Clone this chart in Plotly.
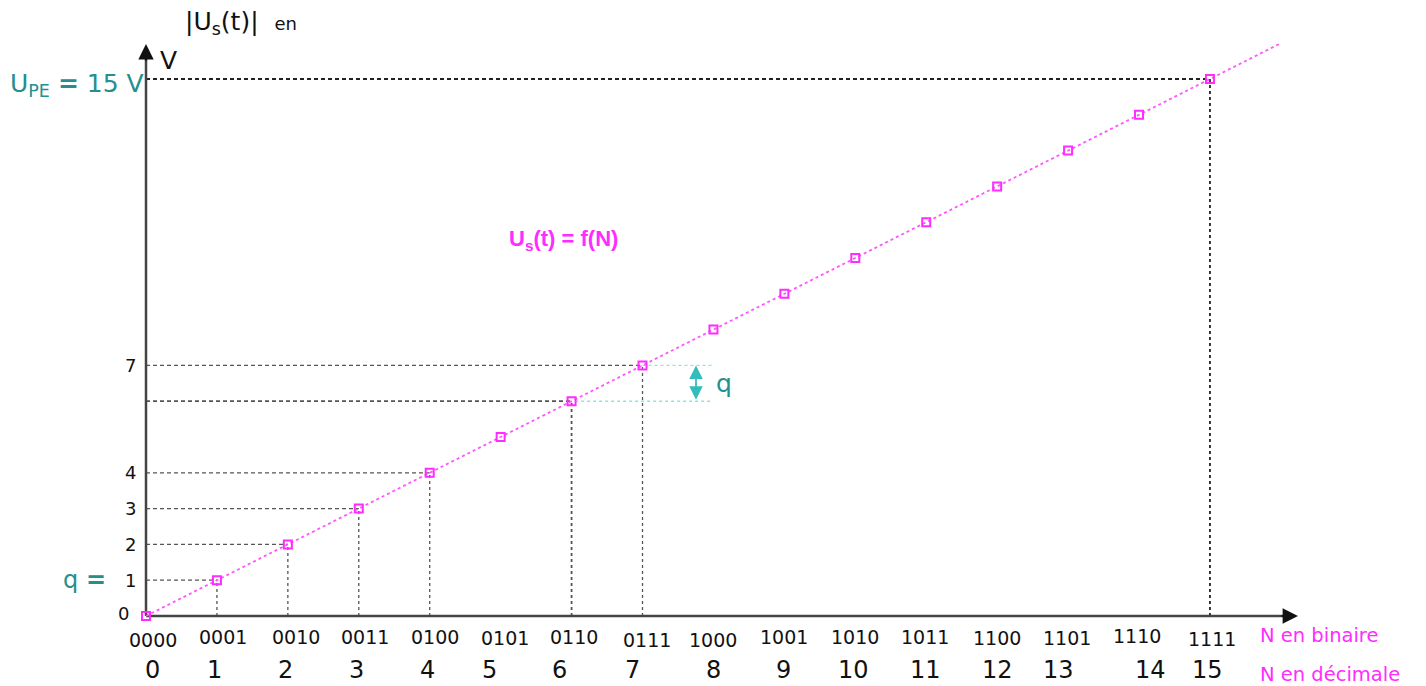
import plotly.graph_objects as go

# ---------------- data ----------------
N_values = [0, 1, 2, 3, 4, 5, 6, 7, 8, 9, 10, 11, 12, 13, 14, 15]
U_values = [0, 1, 2, 3, 4, 5, 6, 7, 8, 9, 10, 11, 12, 13, 14, 15]   # volts (q = 1 V)
binary_labels = ["0000", "0001", "0010", "0011", "0100", "0101", "0110", "0111",
                 "1000", "1001", "1010", "1011", "1100", "1101", "1110", "1111"]
decimal_labels = ["0", "1", "2", "3", "4", "5", "6", "7",
                  "8", "9", "10", "11", "12", "13", "14", "15"]
guide_levels = [1, 2, 3, 4, 6, 7, 15]
y_tick_values = [0, 1, 2, 3, 4, 7]
y_tick_labels = ["0", "1", "2", "3", "4", "7"]
line_end = [0, 16]
q_low, q_high = 6, 7

# ---------------- layout constants (pixels) ----------------
W, H = 1426, 686
X0, SX = 146.0, 70.93
Y0, SY = 616.0, 35.8
def dx(px):
    return (px - X0) / SX
def dy(py):
    return (Y0 - py) / SY

binary_dx = [7, 6, 8, 6, 5, 4, 2, 4, 0, 0, 0, -1, 0, -1, -2, 2]
binary_py = [640, 637, 637, 637, 637, 638, 637, 640, 640, 637, 637, 637, 638, 638, 636, 639]
decimal_dx = [6, -2, -2, -2, -2, -11, -12, -10, 0, -1, -2, -1, 0, -10, 11, -2]

FONT = "DejaVu Sans"
MAG = "#ff2bff"
TEAL = "#238f8f"
GREY = "#555555"

fig = go.Figure()

# guide lines (horizontal then vertical), drawn from data
for lvl in guide_levels:
    col = "#222222" if lvl == 15 else GREY
    wid = 1.8 if lvl in (6, 15) else 1.3
    fig.add_trace(go.Scatter(x=[0, lvl], y=[lvl, lvl], mode="lines",
                             line=dict(color=col, width=wid, dash="4px,3px"),
                             hoverinfo="skip", showlegend=False))
    fig.add_trace(go.Scatter(x=[lvl, lvl], y=[0, lvl], mode="lines",
                             line=dict(color=col, width=wid, dash="3px,3px"),
                             hoverinfo="skip", showlegend=False))

# cyan lines marking q
fig.add_trace(go.Scatter(x=[q_high, q_high + 0.98], y=[q_high, q_high], mode="lines",
                         line=dict(color="#8fe3e3", width=1.4, dash="3px,3px"),
                         hoverinfo="skip", showlegend=False))
fig.add_trace(go.Scatter(x=[q_low + 0.05, q_high + 0.98], y=[q_low, q_low], mode="lines",
                         line=dict(color="#8fe3e3", width=1.4, dash="3px,3px"),
                         hoverinfo="skip", showlegend=False))

# axes lines
fig.add_trace(go.Scatter(x=[0, 16.1], y=[0, 0], mode="lines",
                         line=dict(color="#444444", width=2.5),
                         hoverinfo="skip", showlegend=False))
fig.add_trace(go.Scatter(x=[0, 0], y=[0, 15.8], mode="lines",
                         line=dict(color="#444444", width=2.5),
                         hoverinfo="skip", showlegend=False))

# function line
fig.add_trace(go.Scatter(x=line_end, y=line_end, mode="lines",
                         line=dict(color="#ff55ff", width=1.8, dash="3px,3px"),
                         hoverinfo="skip", showlegend=False))
# points
fig.add_trace(go.Scatter(x=N_values, y=U_values, mode="markers",
                         marker=dict(symbol="square-open", size=8, color=MAG,
                                     line=dict(color=MAG, width=2)),
                         cliponaxis=False, showlegend=False))

ann = []
# arrowheads of axes
ann.append(dict(x=dx(1298), y=0, ax=dx(1280), ay=0, xref="x", yref="y", axref="x", ayref="y",
                text="", showarrow=True, arrowhead=2, arrowsize=1.4, arrowwidth=2.2,
                arrowcolor="#111111"))
ann.append(dict(x=0, y=dy(44), ax=0, ay=dy(62), xref="x", yref="y", axref="x", ayref="y",
                text="", showarrow=True, arrowhead=2, arrowsize=1.4, arrowwidth=2.2,
                arrowcolor="#111111"))
# q double arrow
ann.append(dict(x=dx(696), y=q_high, ax=dx(696), ay=q_low, xref="x", yref="y", axref="x", ayref="y",
                text="", showarrow=True, arrowhead=2, startarrowhead=2, arrowside="end+start",
                arrowsize=1.5, startarrowsize=1.5, arrowwidth=1.8, arrowcolor="#33bcbc"))

# binary & decimal labels
for i, n in enumerate(N_values):
    ann.append(dict(x=n, y=0, xref="x", yref="y", text=binary_labels[i], showarrow=False,
                    xshift=binary_dx[i], yshift=-(binary_py[i] - Y0),
                    font=dict(family=FONT, size=19, color="#111111")))
    ann.append(dict(x=n, y=0, xref="x", yref="y", text=decimal_labels[i], showarrow=False,
                    xshift=decimal_dx[i], yshift=-(670 - Y0),
                    font=dict(family=FONT, size=24, color="#111111")))

# y tick labels
for v, t in zip(y_tick_values, y_tick_labels):
    ann.append(dict(x=0, y=v, xref="x", yref="y", text=t, showarrow=False,
                    xanchor="right", xshift=-8 if v else -15, yshift=3 if v == 0 else 0,
                    font=dict(family=FONT, size=18, color="#111111")))

# texts
ann.append(dict(x=0, y=1, xref="x", yref="y", text="q <b>=</b>", showarrow=False, xanchor="right",
                xshift=-38, font=dict(family=FONT, size=24, color=TEAL)))
ann.append(dict(x=0, y=15, xref="x", yref="y", text="U<sub>PE</sub> <b>=</b> 15 V", showarrow=False,
                xanchor="right", yanchor="middle", xshift=0, yshift=-6,
                font=dict(family=FONT, size=25, color=TEAL)))
ann.append(dict(x=dx(183), y=dy(23), xref="x", yref="y",
                text="|U<sub>s</sub>(t)|  <span style='font-size:18px'>en</span>",
                showarrow=False, xanchor="left", yanchor="middle",
                font=dict(family=FONT, size=25, color="#111111")))
ann.append(dict(x=dx(168), y=dy(60), xref="x", yref="y", text="V", showarrow=False,
                font=dict(family=FONT, size=25, color="#111111")))
ann.append(dict(x=dx(563), y=dy(240), xref="x", yref="y", text="<b>U<sub>s</sub>(t) = f(N)</b>",
                showarrow=False, font=dict(family="Liberation Sans", size=22, color=MAG)))
ann.append(dict(x=dx(724), y=6.5, xref="x", yref="y", text="q", showarrow=False,
                font=dict(family=FONT, size=25, color=TEAL)))
ann.append(dict(x=dx(1258), y=dy(635), xref="x", yref="y", text="N en binaire", showarrow=False,
                xanchor="left", font=dict(family=FONT, size=19.5, color=MAG)))
ann.append(dict(x=dx(1258), y=dy(674), xref="x", yref="y", text="N en décimale", showarrow=False,
                xanchor="left", font=dict(family=FONT, size=19.5, color=MAG)))

fig.update_layout(
    width=W, height=H, margin=dict(l=0, r=0, t=0, b=0),
    paper_bgcolor="white", plot_bgcolor="white",
    xaxis=dict(range=[dx(0), dx(W)], visible=False, fixedrange=True),
    yaxis=dict(range=[dy(H), dy(0)], visible=False, fixedrange=True),
    annotations=ann, showlegend=False,
)

fig.write_html("out.html", config={"displayModeBar": False},
               post_script="document.body.style.margin='0';document.body.style.overflow='hidden';")
